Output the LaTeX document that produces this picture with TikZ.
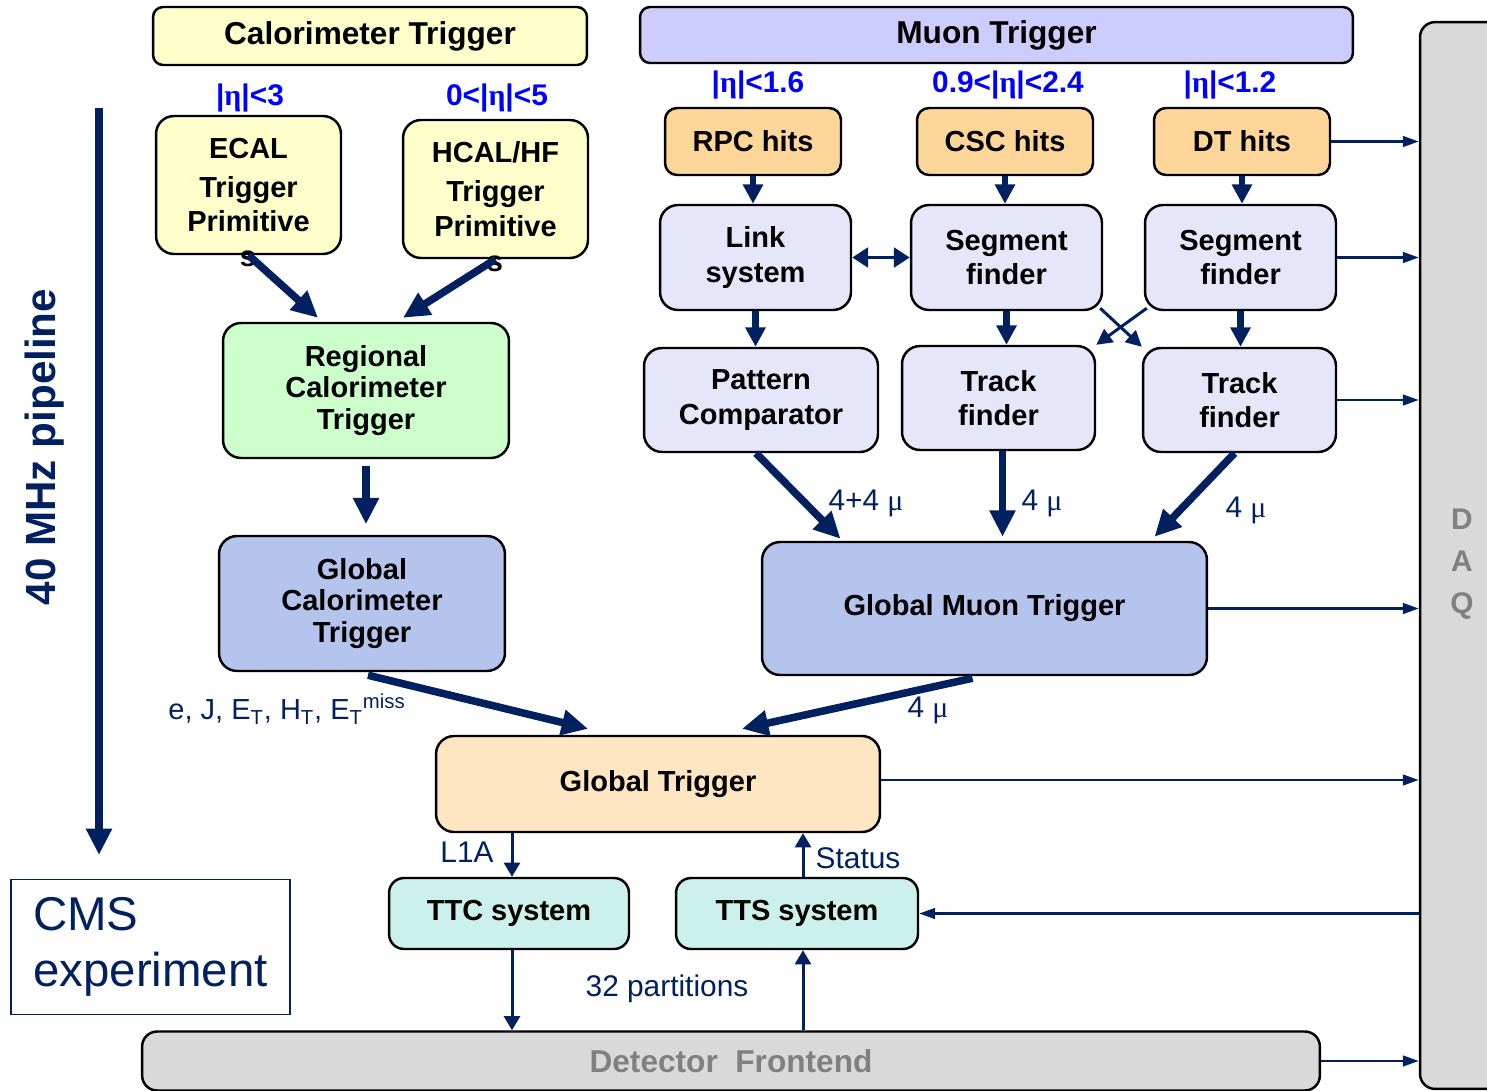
\documentclass[tikz,border=0pt]{standalone}
\usepackage{fontspec}
\setmainfont{Liberation Sans}
\newfontfamily\symfont{Liberation Serif}
\usetikzlibrary{arrows.meta,calc}
\definecolor{navy}{RGB}{0,32,96}
\definecolor{calofill}{RGB}{255,255,204}
\definecolor{muonfill}{RGB}{204,204,255}
\definecolor{rctfill}{RGB}{204,255,204}
\definecolor{globfill}{RGB}{180,196,236}
\definecolor{gtfill}{RGB}{255,230,194}
\definecolor{hitfill}{RGB}{255,214,153}
\definecolor{mufill}{RGB}{230,230,250}
\definecolor{ttfill}{RGB}{204,240,236}
\definecolor{daqfill}{RGB}{217,217,217}
\begin{document}
\begin{tikzpicture}[x=0.02cm, y=-0.02cm,
    box/.style={draw, line width=1.4pt, rounded corners=0.36cm, align=center, inner sep=0pt, font=\bfseries\fontsize{16.5}{19.5}\selectfont},
    titlebox/.style={box, rounded corners=0.2cm, font=\bfseries\fontsize{18}{21}\selectfont},
    etalabel/.style={blue, font=\bfseries\fontsize{17}{20}\selectfont},
    bluelabel/.style={navy, font=\fontsize{17}{20}\selectfont},
    fatarrow/.style={navy, line width=4.3pt, -{Triangle[length=15pt,width=14pt]}},
    midarrow/.style={navy, line width=3.6pt, -{Triangle[length=11pt,width=11pt]}},
    thinarrow/.style={navy, line width=1.7pt, -{Triangle[length=8pt,width=9pt]}},
    daqarrow/.style={navy, line width=1.4pt, -{Triangle[length=9pt,width=6pt]}}]
    \useasboundingbox (0,0) rectangle (1487,1091);

    % DAQ and frontend
    \node[box, fill=daqfill, rounded corners=0.3cm, minimum width=1.68cm, minimum height=21.34cm] (daq) at (1462,555.5) {};
    \node[text=gray, align=center, font=\bfseries\fontsize{17}{24}\selectfont] (daqtext) at (1462,564) {D\\A\\Q};
    \node[box, fill=daqfill, rounded corners=0.3cm, minimum width=23.56cm, minimum height=1.18cm, text=gray, font=\bfseries\fontsize{18}{21}\selectfont] (fe) at (731,1061) {Detector\ \ Frontend};

    % Titles
    \node[titlebox, fill=calofill, minimum width=8.68cm, minimum height=1.16cm] (calo) at (370,36) {Calorimeter Trigger};
    \node[titlebox, fill=muonfill, minimum width=14.26cm, minimum height=1.12cm] (muon) at (996.5,35) {Muon Trigger};

    % Calorimeter nodes
    \node[box, fill=calofill, minimum width=3.7cm, minimum height=2.76cm] (ecal) at (248.5,185) {ECAL\\[3pt]Trigger\\Primitive};
    \node[box, fill=calofill, minimum width=3.7cm, minimum height=2.76cm] (hcal) at (495.5,189) {HCAL/HF\\[3pt]Trigger\\Primitive};
    \node[font=\bfseries\fontsize{16.5}{19.5}\selectfont] (ecals) at (248,259) {s};
    \node[font=\bfseries\fontsize{16.5}{19.5}\selectfont] (hcals) at (495,264) {s};
    \node[box, fill=rctfill, minimum width=5.72cm, minimum height=2.7cm, font=\bfseries\fontsize{16.5}{18}\selectfont] (rct) at (366,390.5) {Regional\\Calorimeter\\Trigger};
    \node[box, fill=globfill, minimum width=5.72cm, minimum height=2.7cm, font=\bfseries\fontsize{16.5}{18}\selectfont] (gct) at (362,603.5) {Global\\Calorimeter\\Trigger};

    % Muon nodes
    \node[box, fill=hitfill, rounded corners=0.24cm, minimum width=3.52cm, minimum height=1.34cm] (rpc) at (753,141.5) {RPC hits};
    \node[box, fill=hitfill, rounded corners=0.24cm, minimum width=3.52cm, minimum height=1.34cm] (csc) at (1005,141.5) {CSC hits};
    \node[box, fill=hitfill, rounded corners=0.24cm, minimum width=3.52cm, minimum height=1.34cm] (dt) at (1242,141.5) {DT hits};
    \node[box, fill=mufill, minimum width=3.82cm, minimum height=2.1cm] (link) at (755.5,257.5) {Link\\system};
    \node[box, fill=mufill, minimum width=3.82cm, minimum height=2.1cm] (segcsc) at (1006.5,257.5) {Segment\\finder};
    \node[box, fill=mufill, minimum width=3.82cm, minimum height=2.1cm] (segdt) at (1240.5,257.5) {Segment\\finder};
    \node[box, fill=mufill, minimum width=4.68cm, minimum height=2.08cm] (pac) at (761,400) {Pattern\\Comparator};
    \node[box, fill=mufill, minimum width=3.86cm, minimum height=2.08cm] (trkcsc) at (998.5,398) {Track\\finder};
    \node[box, fill=mufill, minimum width=3.86cm, minimum height=2.08cm] (trkdt) at (1239.5,400) {Track\\finder};
    \node[box, fill=globfill, minimum width=8.9cm, minimum height=2.66cm] (gmt) at (984.5,608.5) {Global Muon Trigger};

    % Global trigger and TTC/TTS
    \node[box, fill=gtfill, minimum width=8.88cm, minimum height=1.92cm] (gt) at (658,784) {Global Trigger};
    \node[box, fill=ttfill, rounded corners=0.3cm, minimum width=4.8cm, minimum height=1.42cm] (ttc) at (509,913.5) {TTC system};
    \node[box, fill=ttfill, rounded corners=0.3cm, minimum width=4.84cm, minimum height=1.42cm] (tts) at (797,913.5) {TTS system};

    % CMS box and pipeline
    \node[draw=navy, line width=1pt, minimum width=5.58cm, minimum height=2.7cm, align=left, text=navy, font=\fontsize{27}{32}\selectfont] (cms) at (150.5,947) {CMS\\experiment};
    \coordinate (pipetop) at (99,108);
    \coordinate (pipebot) at (99,855);
    \draw[navy, line width=4.3pt, -{Triangle[length=15pt,width=14pt]}] (pipetop) -- (pipebot);
    \node[rotate=90, text=navy, font=\bfseries\fontsize{24}{28}\selectfont] (pipe) at (45,447) {40 MHz pipeline};

    % Eta labels
    \node[etalabel] (etaecal) at (250,98) {|{\symfont η}|<3};
    \node[etalabel] (etahcal) at (497,98) {0<|{\symfont η}|<5};
    \node[etalabel] (etarpc) at (758,85) {|{\symfont η}|<1.6};
    \node[etalabel] (etacsc) at (1008,85) {0.9<|{\symfont η}|<2.4};
    \node[etalabel] (etadt) at (1230,85) {|{\symfont η}|<1.2};

    % Arrows calorimeter
    \draw[fatarrow] (ecal.south) -- ($(rct.north)+(-48,-4)$);
    \draw[fatarrow] (hcal.south) -- ($(rct.north)+(37,-4)$);
    \draw[fatarrow, shorten <=4pt, shorten >=6pt] (rct.south) -- (rct.south |- gct.north);
    \draw[fatarrow] ($(gct.south)+(6,3)$) -- ($(gt.north)+(-70,-6)$);
    \node[bluelabel, font=\fontsize{16.5}{20}\selectfont] (calolist) at (287,709) {e, J, E\textsubscript{T}, H\textsubscript{T}, E\textsubscript{T}\textsuperscript{miss}};

    % Arrows muon
    \draw[midarrow] (rpc.south) -- (rpc.south |- link.north);
    \draw[midarrow] (csc.south) -- (csc.south |- segcsc.north);
    \draw[midarrow] (dt.south) -- (dt.south |- segdt.north);
    \draw[midarrow] (link.south) -- (link.south |- pac.north);
    \draw[midarrow] (segcsc.south) -- (segcsc.south |- trkcsc.north);
    \draw[midarrow] (segdt.south) -- (segdt.south |- trkdt.north);
    \draw[navy, line width=2.2pt, {Triangle[length=9pt,width=11pt]}-{Triangle[length=9pt,width=11pt]}] (link.east) -- (segcsc.west);
    \draw[navy, line width=1.7pt, -{Triangle[length=9pt,width=9pt]}] ($(segcsc.south east)+(-3,-3)$) -- (trkdt.north west);
    \draw[navy, line width=1.7pt, -{Triangle[length=9pt,width=9pt]}] ($(segdt.south west)+(3,-3)$) -- (trkcsc.north east);
    \draw[fatarrow] ($(pac.south)+(-5,0)$) -- ($(gmt.north)+(-144,-2)$);
    \draw[fatarrow] ($(trkcsc.south)+(4,0)$) -- ($(gmt.north -| trkcsc.south)+(4,-4)$);
    \draw[fatarrow] ($(trkdt.south)+(-5,0)$) -- ($(gmt.north)+(170,-4)$);
    \draw[fatarrow] ($(gmt.south)+(-12,2)$) -- ($(gt.north)+(84,-6)$);
    \node[bluelabel] (mupac) at (866,503) {4+4 {\symfont μ}};
    \node[bluelabel] (mucsc) at (1042,503) {4 {\symfont μ}};
    \node[bluelabel] (mudt) at (1246,510) {4 {\symfont μ}};
    \node[bluelabel] (mugmt) at (928,710) {4 {\symfont μ}};

    % Arrows to DAQ
    \draw[daqarrow] (dt.east) -- (dt.east -| daq.west);
    \draw[daqarrow] (segdt.east) -- (segdt.east -| daq.west);
    \draw[daqarrow] (trkdt.east) -- (trkdt.east -| daq.west);
    \draw[daqarrow] (gmt.east) -- (gmt.east -| daq.west);
    \draw[daqarrow] ($(gt.east)+(0,-4)$) -- ($(gt.east -| daq.west)+(0,-4)$);
    \draw[daqarrow] (tts.east -| daq.west) -- (tts.east);
    \draw[daqarrow] (fe.east) -- (fe.east -| daq.west);

    % TTC / TTS arrows
    \draw[thinarrow] ($(gt.south -| ttc.north)+(3,0)$) -- ($(ttc.north)+(3,0)$);
    \draw[thinarrow] ($(tts.north)+(6,0)$) -- ($(gt.south -| tts.north)+(6,0)$);
    \draw[thinarrow] ($(ttc.south)+(3,0)$) -- ($(ttc.south |- fe.north)+(3,0)$);
    \draw[thinarrow] ($(tts.south |- fe.north)+(6,0)$) -- ($(tts.south)+(6,0)$);
    \node[bluelabel] (l1a) at (467,852) {L1A};
    \node[bluelabel] (status) at (858,858) {Status};
    \node[bluelabel] (parts) at (667,989) {32 partitions};
\end{tikzpicture}
\end{document}
